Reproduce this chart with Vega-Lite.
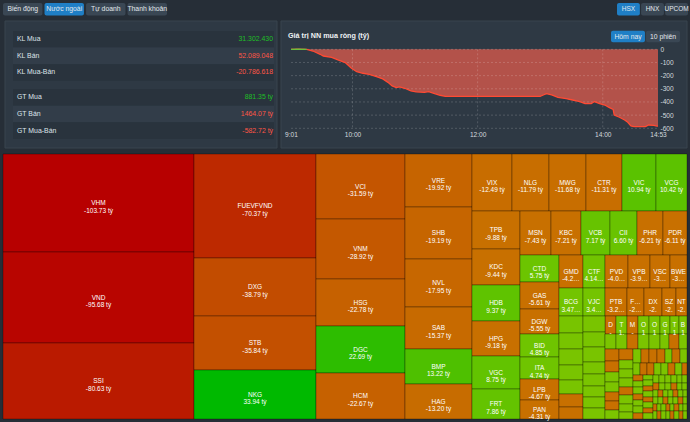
{
  "$schema": "https://vega.github.io/schema/vega-lite/v6.json",
  "width": 690,
  "height": 422,
  "autosize": {"type": "none"},
  "padding": 0,
  "background": "#262e37",
  "config": {"view": {"stroke": null}, "font": "Liberation Sans", "text": {"font": "Liberation Sans"}},
  "resolve": {
    "scale": {"x": "independent", "y": "independent", "color": "independent", "fill": "independent"},
    "axis": {"x": "independent", "y": "independent"},
    "legend": {"color": "independent", "fill": "independent"}
  },
  "datasets": {
    "nn": [
      {"t": "2000-01-01 09:01", "v": 0}, {"t": "2000-01-01 09:08", "v": 2}, {"t": "2000-01-01 09:16", "v": 0},
      {"t": "2000-01-01 09:22", "v": -13}, {"t": "2000-01-01 09:29", "v": -38}, {"t": "2000-01-01 09:32", "v": -51},
      {"t": "2000-01-01 09:40", "v": -61}, {"t": "2000-01-01 09:46", "v": -81}, {"t": "2000-01-01 09:53", "v": -101},
      {"t": "2000-01-01 09:59", "v": -144}, {"t": "2000-01-01 10:04", "v": -170}, {"t": "2000-01-01 10:10", "v": -182},
      {"t": "2000-01-01 10:16", "v": -190}, {"t": "2000-01-01 10:23", "v": -208}, {"t": "2000-01-01 10:29", "v": -225},
      {"t": "2000-01-01 10:34", "v": -251}, {"t": "2000-01-01 10:38", "v": -278}, {"t": "2000-01-01 10:42", "v": -291},
      {"t": "2000-01-01 10:45", "v": -286}, {"t": "2000-01-01 10:50", "v": -296}, {"t": "2000-01-01 10:56", "v": -316},
      {"t": "2000-01-01 11:01", "v": -324}, {"t": "2000-01-01 11:09", "v": -327}, {"t": "2000-01-01 11:13", "v": -322},
      {"t": "2000-01-01 11:18", "v": -334}, {"t": "2000-01-01 11:24", "v": -349}, {"t": "2000-01-01 11:29", "v": -357},
      {"t": "2000-01-01 11:30", "v": -357}, {"t": "2000-01-01 13:00", "v": -357}, {"t": "2000-01-01 13:03", "v": -347},
      {"t": "2000-01-01 13:06", "v": -337}, {"t": "2000-01-01 13:11", "v": -347}, {"t": "2000-01-01 13:17", "v": -365},
      {"t": "2000-01-01 13:25", "v": -375}, {"t": "2000-01-01 13:31", "v": -385}, {"t": "2000-01-01 13:38", "v": -397},
      {"t": "2000-01-01 13:43", "v": -413}, {"t": "2000-01-01 13:49", "v": -413}, {"t": "2000-01-01 13:52", "v": -397},
      {"t": "2000-01-01 13:57", "v": -413}, {"t": "2000-01-01 14:02", "v": -423}, {"t": "2000-01-01 14:06", "v": -441},
      {"t": "2000-01-01 14:10", "v": -456}, {"t": "2000-01-01 14:11", "v": -499}, {"t": "2000-01-01 14:16", "v": -516},
      {"t": "2000-01-01 14:21", "v": -537}, {"t": "2000-01-01 14:24", "v": -554}, {"t": "2000-01-01 14:27", "v": -582},
      {"t": "2000-01-01 14:30", "v": -587}, {"t": "2000-01-01 14:41", "v": -587}, {"t": "2000-01-01 14:44", "v": -575},
      {"t": "2000-01-01 14:49", "v": -577}, {"t": "2000-01-01 14:52", "v": -583}, {"t": "2000-01-01 14:53", "v": -582.72}
    ],
    "grid": [
      {"gv": 0, "t0": "2000-01-01 09:01", "t1": "2000-01-01 14:53"},
      {"gv": -100, "t0": "2000-01-01 09:01", "t1": "2000-01-01 14:53"},
      {"gv": -200, "t0": "2000-01-01 09:01", "t1": "2000-01-01 14:53"},
      {"gv": -300, "t0": "2000-01-01 09:01", "t1": "2000-01-01 14:53"},
      {"gv": -400, "t0": "2000-01-01 09:01", "t1": "2000-01-01 14:53"},
      {"gv": -500, "t0": "2000-01-01 09:01", "t1": "2000-01-01 14:53"},
      {"gv": -600, "t0": "2000-01-01 09:01", "t1": "2000-01-01 14:53"}
    ],
    "vgrid": [
      {"gt": "2000-01-01 10:00", "top": 0, "bottom": -600},
      {"gt": "2000-01-01 12:00", "top": 0, "bottom": -600},
      {"gt": "2000-01-01 14:00", "top": 0, "bottom": -600}
    ],
    "table": [
      {"item": "KL Mua", "val": "31.302.430", "dir": "up", "grp": "KL"},
      {"item": "KL Bán", "val": "52.089.048", "dir": "down", "grp": "KL"},
      {"item": "KL Mua-Bán", "val": "-20.786.618", "dir": "down", "grp": "KL"},
      {"item": "GT Mua", "val": "881.35 tỷ", "dir": "up", "grp": "GT"},
      {"item": "GT Bán", "val": "1464.07 tỷ", "dir": "down", "grp": "GT"},
      {"item": "GT Mua-Bán", "val": "-582.72 tỷ", "dir": "down", "grp": "GT"}
    ],
    "cells": [
      {"name":"VHM","value":-103.73,"lbl":"VHM\n-103.73 tỷ","x0":0,"x1":191,"y0":0,"y1":98},
      {"name":"VND","value":-95.68,"lbl":"VND\n-95.68 tỷ","x0":0,"x1":191,"y0":98,"y1":189},
      {"name":"SSI","value":-80.63,"lbl":"SSI\n-80.63 tỷ","x0":0,"x1":191,"y0":189,"y1":265},
      {"name":"FUEVFVND","value":-70.37,"lbl":"FUEVFVND\n-70.37 tỷ","x0":191,"x1":313,"y0":0,"y1":104},
      {"name":"DXG","value":-38.79,"lbl":"DXG\n-38.79 tỷ","x0":191,"x1":313,"y0":104,"y1":162},
      {"name":"STB","value":-35.84,"lbl":"STB\n-35.84 tỷ","x0":191,"x1":313,"y0":162,"y1":216},
      {"name":"NKG","value":33.94,"lbl":"NKG\n33.94 tỷ","x0":191,"x1":313,"y0":216,"y1":265},
      {"name":"VCI","value":-31.59,"lbl":"VCI\n-31.59 tỷ","x0":313,"x1":402,"y0":0,"y1":65},
      {"name":"VNM","value":-28.92,"lbl":"VNM\n-28.92 tỷ","x0":313,"x1":402,"y0":65,"y1":125},
      {"name":"HSG","value":-22.78,"lbl":"HSG\n-22.78 tỷ","x0":313,"x1":402,"y0":125,"y1":172},
      {"name":"DGC","value":22.69,"lbl":"DGC\n22.69 tỷ","x0":313,"x1":402,"y0":172,"y1":219},
      {"name":"HCM","value":-22.67,"lbl":"HCM\n-22.67 tỷ","x0":313,"x1":402,"y0":219,"y1":265},
      {"name":"VRE","value":-19.92,"lbl":"VRE\n-19.92 tỷ","x0":402,"x1":469,"y0":0,"y1":53},
      {"name":"SHB","value":-19.19,"lbl":"SHB\n-19.19 tỷ","x0":402,"x1":469,"y0":53,"y1":105},
      {"name":"NVL","value":-17.95,"lbl":"NVL\n-17.95 tỷ","x0":402,"x1":469,"y0":105,"y1":153},
      {"name":"SAB","value":-15.37,"lbl":"SAB\n-15.37 tỷ","x0":402,"x1":469,"y0":153,"y1":195},
      {"name":"BMP","value":13.22,"lbl":"BMP\n13.22 tỷ","x0":402,"x1":469,"y0":195,"y1":230},
      {"name":"HAG","value":-13.2,"lbl":"HAG\n-13.20 tỷ","x0":402,"x1":469,"y0":230,"y1":265},
      {"name":"VIX","value":-12.49,"lbl":"VIX\n-12.49 tỷ","x0":469,"x1":509,"y0":0,"y1":57},
      {"name":"NLG","value":-11.79,"lbl":"NLG\n-11.79 tỷ","x0":509,"x1":546,"y0":0,"y1":57},
      {"name":"MWG","value":-11.68,"lbl":"MWG\n-11.68 tỷ","x0":546,"x1":583,"y0":0,"y1":57},
      {"name":"CTR","value":-11.31,"lbl":"CTR\n-11.31 tỷ","x0":583,"x1":619,"y0":0,"y1":57},
      {"name":"VIC","value":10.94,"lbl":"VIC\n10.94 tỷ","x0":619,"x1":653,"y0":0,"y1":57},
      {"name":"VCG","value":10.42,"lbl":"VCG\n10.42 tỷ","x0":653,"x1":684,"y0":0,"y1":57},
      {"name":"TPB","value":-9.88,"lbl":"TPB\n-9.88 tỷ","x0":469,"x1":517,"y0":57,"y1":95},
      {"name":"KDC","value":-9.44,"lbl":"KDC\n-9.44 tỷ","x0":469,"x1":517,"y0":95,"y1":131},
      {"name":"HDB","value":9.37,"lbl":"HDB\n9.37 tỷ","x0":469,"x1":517,"y0":131,"y1":167},
      {"name":"HPG","value":-9.18,"lbl":"HPG\n-9.18 tỷ","x0":469,"x1":517,"y0":167,"y1":202},
      {"name":"VGC","value":8.75,"lbl":"VGC\n8.75 tỷ","x0":469,"x1":517,"y0":202,"y1":235},
      {"name":"FRT","value":7.86,"lbl":"FRT\n7.86 tỷ","x0":469,"x1":517,"y0":235,"y1":265},
      {"name":"MSN","value":-7.43,"lbl":"MSN\n-7.43 tỷ","x0":517,"x1":548,"y0":57,"y1":101},
      {"name":"KBC","value":-7.21,"lbl":"KBC\n-7.21 tỷ","x0":548,"x1":578,"y0":57,"y1":101},
      {"name":"VCB","value":7.17,"lbl":"VCB\n7.17 tỷ","x0":578,"x1":607,"y0":57,"y1":101},
      {"name":"CII","value":6.6,"lbl":"CII\n6.60 tỷ","x0":607,"x1":634,"y0":57,"y1":101},
      {"name":"PHR","value":-6.21,"lbl":"PHR\n-6.21 tỷ","x0":634,"x1":660,"y0":57,"y1":101},
      {"name":"PDR","value":-6.11,"lbl":"PDR\n-6.11 tỷ","x0":660,"x1":684,"y0":57,"y1":101},
      {"name":"CTD","value":5.75,"lbl":"CTD\n5.75 tỷ","x0":517,"x1":556,"y0":101,"y1":128},
      {"name":"GAS","value":-5.61,"lbl":"GAS\n-5.61 tỷ","x0":517,"x1":556,"y0":128,"y1":155},
      {"name":"DGW","value":-5.55,"lbl":"DGW\n-5.55 tỷ","x0":517,"x1":556,"y0":155,"y1":180},
      {"name":"BID","value":4.85,"lbl":"BID\n4.85 tỷ","x0":517,"x1":556,"y0":180,"y1":203},
      {"name":"ITA","value":4.74,"lbl":"ITA\n4.74 tỷ","x0":517,"x1":556,"y0":203,"y1":225},
      {"name":"LPB","value":-4.67,"lbl":"LPB\n-4.67 tỷ","x0":517,"x1":556,"y0":225,"y1":246},
      {"name":"PAN","value":-4.31,"lbl":"PAN\n-4.31 tỷ","x0":517,"x1":556,"y0":246,"y1":265},
      {"name":"GMD","value":-4.25,"lbl":"GMD\n-4.2…","x0":556,"x1":580,"y0":101,"y1":134},
      {"name":"CTF","value":4.14,"lbl":"CTF\n4.14…","x0":580,"x1":602,"y0":101,"y1":134},
      {"name":"PVD","value":-4.05,"lbl":"PVD\n-4.0…","x0":602,"x1":625,"y0":101,"y1":134},
      {"name":"VPB","value":-3.95,"lbl":"VPB\n-3.9…","x0":625,"x1":647,"y0":101,"y1":134},
      {"name":"VSC","value":-3.5,"lbl":"VSC\n-3…","x0":647,"x1":667,"y0":101,"y1":134},
      {"name":"BWE","value":-3.4,"lbl":"BWE\n-3…","x0":667,"x1":684,"y0":101,"y1":134},
      {"name":"BCG","value":3.47,"lbl":"BCG\n3.47…","x0":556,"x1":580,"y0":134,"y1":162},
      {"name":"VJC","value":3.42,"lbl":"VJC\n3.4…","x0":580,"x1":602,"y0":134,"y1":162},
      {"name":"PTB","value":-3.25,"lbl":"PTB\n-3.2…","x0":602,"x1":624,"y0":134,"y1":162},
      {"name":"F","value":-2.8,"lbl":"F…\n-2…","x0":624,"x1":641,"y0":134,"y1":162},
      {"name":"DX","value":-2.7,"lbl":"DX\n-2.","x0":641,"x1":659,"y0":134,"y1":162},
      {"name":"SZ","value":-2.5,"lbl":"SZ\n-2.","x0":659,"x1":673,"y0":134,"y1":162},
      {"name":"NT","value":-2.3,"lbl":"NT\n-2.","x0":673,"x1":684,"y0":134,"y1":162},
      {"name":"D","value":-1.9,"lbl":"D\n-","x0":602,"x1":613,"y0":162,"y1":180},
      {"name":"T","value":1.9,"lbl":"T\n1.","x0":613,"x1":624,"y0":162,"y1":180},
      {"name":"M","value":-1.8,"lbl":"M\n-","x0":624,"x1":635,"y0":162,"y1":180},
      {"name":"O","value":1.8,"lbl":"O\n1","x0":635,"x1":646,"y0":162,"y1":180},
      {"name":"O","value":1.7,"lbl":"O\n1","x0":646,"x1":657,"y0":162,"y1":180},
      {"name":"G","value":1.6,"lbl":"G\n1","x0":657,"x1":667,"y0":162,"y1":180},
      {"name":"T","value":1.5,"lbl":"T\n1","x0":667,"x1":676,"y0":162,"y1":180},
      {"name":"B","value":1.4,"lbl":"B\n1","x0":676,"x1":684,"y0":162,"y1":180},
      {"value":2.2,"x0":556,"x1":580,"y0":162,"y1":179},{"value":2.1,"x0":556,"x1":580,"y0":179,"y1":195},
      {"value":2.0,"x0":556,"x1":580,"y0":195,"y1":211},{"value":1.9,"x0":556,"x1":580,"y0":211,"y1":226},
      {"value":1.8,"x0":556,"x1":580,"y0":226,"y1":240},{"value":-1.7,"x0":556,"x1":580,"y0":240,"y1":253},
      {"value":-1.6,"x0":556,"x1":580,"y0":253,"y1":265},
      {"value":1.9,"x0":580,"x1":602,"y0":162,"y1":178},{"value":1.8,"x0":580,"x1":602,"y0":178,"y1":193},
      {"value":1.8,"x0":580,"x1":602,"y0":193,"y1":208},{"value":1.5,"x0":580,"x1":602,"y0":208,"y1":220},
      {"value":1.5,"x0":580,"x1":602,"y0":220,"y1":232},{"value":1.4,"x0":580,"x1":602,"y0":232,"y1":243},
      {"value":1.4,"x0":580,"x1":602,"y0":243,"y1":254},{"value":1.3,"x0":580,"x1":602,"y0":254,"y1":265},
      {"value":1.3,"x0":602,"x1":613,"y0":180,"y1":195},{"value":1.3,"x0":613,"x1":624,"y0":180,"y1":195},
      {"value":-1.3,"x0":624,"x1":635,"y0":180,"y1":195},{"value":1.3,"x0":635,"x1":646,"y0":180,"y1":195},
      {"value":1.3,"x0":646,"x1":657,"y0":180,"y1":195},{"value":1.2,"x0":657,"x1":666,"y0":180,"y1":195},
      {"value":-1.2,"x0":666,"x1":676,"y0":180,"y1":195},{"value":1.1,"x0":676,"x1":684,"y0":180,"y1":195},
      {"value":-1.1,"x0":602,"x1":616,"y0":195,"y1":207},{"value":-1.1,"x0":602,"x1":616,"y0":207,"y1":218},
      {"value":1.0,"x0":602,"x1":616,"y0":218,"y1":228},{"value":1.0,"x0":602,"x1":616,"y0":228,"y1":238},
      {"value":-1.0,"x0":602,"x1":616,"y0":238,"y1":247},{"value":-1.0,"x0":602,"x1":616,"y0":247,"y1":256},
      {"value":1.0,"x0":602,"x1":616,"y0":256,"y1":265},
      {"value":-1.0,"x0":616,"x1":630,"y0":195,"y1":206},{"value":1.0,"x0":616,"x1":630,"y0":206,"y1":215},
      {"value":1.0,"x0":616,"x1":630,"y0":215,"y1":224},{"value":1.0,"x0":616,"x1":630,"y0":224,"y1":233},
      {"value":-1.0,"x0":616,"x1":630,"y0":233,"y1":241},{"value":1.0,"x0":616,"x1":630,"y0":241,"y1":250},
      {"value":1.0,"x0":616,"x1":630,"y0":250,"y1":258},{"value":1.0,"x0":616,"x1":630,"y0":258,"y1":265},
      {"value":1,"x0":630,"x1":638,"y0":195,"y1":209},{"value":-1,"x0":638,"x1":646,"y0":195,"y1":209},
      {"value":-1,"x0":646,"x1":654,"y0":195,"y1":209},{"value":-1,"x0":654,"x1":662,"y0":195,"y1":209},
      {"value":1,"x0":662,"x1":669,"y0":195,"y1":209},{"value":-1,"x0":669,"x1":677,"y0":195,"y1":209},
      {"value":1,"x0":677,"x1":684,"y0":195,"y1":209},
      {"value":1,"x0":630,"x1":637,"y0":209,"y1":221},{"value":-1,"x0":637,"x1":644,"y0":209,"y1":221},
      {"value":-1,"x0":644,"x1":651,"y0":209,"y1":221},{"value":1,"x0":651,"x1":658,"y0":209,"y1":221},
      {"value":1,"x0":658,"x1":665,"y0":209,"y1":221},{"value":-1,"x0":665,"x1":672,"y0":209,"y1":221},
      {"value":1,"x0":672,"x1":679,"y0":209,"y1":221},{"value":-1,"x0":679,"x1":684,"y0":209,"y1":221},
      {"value":-1,"x0":630,"x1":640,"y0":221,"y1":227},{"value":1,"x0":630,"x1":640,"y0":227,"y1":233},
      {"value":1,"x0":630,"x1":640,"y0":233,"y1":240},{"value":-1,"x0":630,"x1":640,"y0":240,"y1":246},
      {"value":1,"x0":630,"x1":640,"y0":246,"y1":252},{"value":1,"x0":630,"x1":640,"y0":252,"y1":259},
      {"value":-1,"x0":630,"x1":640,"y0":259,"y1":265},
      {"value":1,"x0":640,"x1":650,"y0":221,"y1":226},{"value":1,"x0":640,"x1":650,"y0":226,"y1":232},
      {"value":-1,"x0":640,"x1":650,"y0":232,"y1":237},{"value":1,"x0":640,"x1":650,"y0":237,"y1":243},
      {"value":-1,"x0":640,"x1":650,"y0":243,"y1":248},{"value":1,"x0":640,"x1":650,"y0":248,"y1":254},
      {"value":-1,"x0":640,"x1":650,"y0":254,"y1":259},{"value":1,"x0":640,"x1":650,"y0":259,"y1":265},
      {"value":1,"x0":650,"x1":656,"y0":221,"y1":229},{"value":1,"x0":656,"x1":662,"y0":221,"y1":229},
      {"value":1,"x0":662,"x1":668,"y0":221,"y1":229},{"value":1,"x0":668,"x1":674,"y0":221,"y1":229},
      {"value":1,"x0":674,"x1":679,"y0":221,"y1":229},{"value":1,"x0":679,"x1":684,"y0":221,"y1":229},
      {"value":-1,"x0":650,"x1":656,"y0":229,"y1":236},{"value":1,"x0":656,"x1":662,"y0":229,"y1":236},
      {"value":1,"x0":662,"x1":668,"y0":229,"y1":236},{"value":-1,"x0":668,"x1":674,"y0":229,"y1":236},
      {"value":1,"x0":674,"x1":679,"y0":229,"y1":236},{"value":1,"x0":679,"x1":684,"y0":229,"y1":236},
      {"value":1,"x0":650,"x1":655,"y0":236,"y1":243},{"value":-1,"x0":655,"x1":660,"y0":236,"y1":243},
      {"value":1,"x0":660,"x1":665,"y0":236,"y1":243},{"value":1,"x0":665,"x1":670,"y0":236,"y1":243},
      {"value":-1,"x0":670,"x1":675,"y0":236,"y1":243},{"value":1,"x0":675,"x1":680,"y0":236,"y1":243},
      {"value":1,"x0":680,"x1":684,"y0":236,"y1":243},
      {"value":1,"x0":650,"x1":655,"y0":243,"y1":250},{"value":1,"x0":655,"x1":660,"y0":243,"y1":250},
      {"value":-1,"x0":660,"x1":665,"y0":243,"y1":250},{"value":1,"x0":665,"x1":670,"y0":243,"y1":250},
      {"value":1,"x0":670,"x1":675,"y0":243,"y1":250},{"value":-1,"x0":675,"x1":680,"y0":243,"y1":250},
      {"value":1,"x0":680,"x1":684,"y0":243,"y1":250},
      {"value":-1,"x0":650,"x1":654,"y0":250,"y1":257},{"value":1,"x0":654,"x1":658,"y0":250,"y1":257},
      {"value":1,"x0":658,"x1":663,"y0":250,"y1":257},{"value":-1,"x0":663,"x1":667,"y0":250,"y1":257},
      {"value":1,"x0":667,"x1":671,"y0":250,"y1":257},{"value":-1,"x0":671,"x1":676,"y0":250,"y1":257},
      {"value":1,"x0":676,"x1":680,"y0":250,"y1":257},{"value":1,"x0":680,"x1":684,"y0":250,"y1":257},
      {"value":1,"x0":650,"x1":654,"y0":257,"y1":265},{"value":-1,"x0":654,"x1":658,"y0":257,"y1":265},
      {"value":1,"x0":658,"x1":663,"y0":257,"y1":265},{"value":1,"x0":663,"x1":667,"y0":257,"y1":265},
      {"value":-1,"x0":667,"x1":671,"y0":257,"y1":265},{"value":1,"x0":671,"x1":676,"y0":257,"y1":265},
      {"value":-1,"x0":676,"x1":680,"y0":257,"y1":265},{"value":1,"x0":680,"x1":684,"y0":257,"y1":265}
    ]
  },
  "layer": [
    {
      "data": {"values": [{}]},
      "mark": {"type": "rect", "fill": "#2e3944", "stroke": "#38444f", "strokeWidth": 1},
      "encoding": {
        "x": {"datum": 0, "type": "quantitative", "scale": {"domain": [0, 1], "range": [5, 277], "nice": false}, "axis": null},
        "x2": {"datum": 1},
        "y": {"datum": 0, "type": "quantitative", "scale": {"domain": [0, 1], "range": [21, 148], "nice": false}, "axis": null},
        "y2": {"datum": 1}
      }
    },
    {
      "data": {"values": [{}]},
      "encoding": {
        "x": {"datum": 0, "type": "quantitative", "scale": {"domain": [0, 1], "range": [281, 687], "nice": false}, "axis": null},
        "y": {"datum": 0, "type": "quantitative", "scale": {"domain": [0, 1], "range": [21, 148], "nice": false}, "axis": null}
      },
      "layer": [
        {"mark": {"type": "rect", "fill": "#2e3944", "stroke": "#38444f", "strokeWidth": 1},
          "encoding": {"x2": {"datum": 1}, "y2": {"datum": 1}}},
        {"mark": {"type": "text", "text": "Giá trị NN mua ròng (tỷ)", "align": "left", "baseline": "middle", "fontSize": 7.2, "fontWeight": "bold", "color": "#eef1f4", "dx": 7, "dy": 15}}
      ]
    },
    {
      "data": {"values": [{"b": "Biến động", "sel": false}, {"b": "Nước ngoài", "sel": true}, {"b": "Tự doanh", "sel": false}, {"b": "Thanh khoản", "sel": false}]},
      "encoding": {
        "x": {"field": "b", "type": "nominal", "sort": null, "scale": {"domain": ["Biến động", "Nước ngoài", "Tự doanh", "Thanh khoản"], "range": [3, 167], "paddingInner": 0.05, "paddingOuter": 0}, "axis": null},
        "y": {"datum": "btn", "type": "nominal", "scale": {"range": [3, 15.5], "paddingInner": 0, "paddingOuter": 0}, "axis": null}
      },
      "layer": [
        {"mark": {"type": "bar", "cornerRadius": 2}, "encoding": {"color": {"condition": {"test": "datum.sel", "value": "#1f7fc6"}, "value": "#3a4754"}}},
        {"mark": {"type": "text", "fontSize": 6.8, "color": "#e4e8ec", "baseline": "middle"}, "encoding": {"text": {"field": "b"}}}
      ]
    },
    {
      "data": {"values": [{"b": "HSX", "sel": true}, {"b": "HNX", "sel": false}, {"b": "UPCOM", "sel": false}]},
      "encoding": {
        "x": {"field": "b", "type": "nominal", "sort": null, "scale": {"domain": ["HSX", "HNX", "UPCOM"], "range": [617, 688], "paddingInner": 0.05, "paddingOuter": 0}, "axis": null},
        "y": {"datum": "btn", "type": "nominal", "scale": {"range": [3, 15.5], "paddingInner": 0, "paddingOuter": 0}, "axis": null}
      },
      "layer": [
        {"mark": {"type": "bar", "cornerRadius": 2}, "encoding": {"color": {"condition": {"test": "datum.sel", "value": "#1f7fc6"}, "value": "#3a4754"}}},
        {"mark": {"type": "text", "fontSize": 6.5, "color": "#e4e8ec", "baseline": "middle"}, "encoding": {"text": {"field": "b"}}}
      ]
    },
    {
      "data": {"name": "table"},
      "transform": [{"filter": "datum.grp === 'KL'"}],
      "encoding": {
        "y": {"field": "item", "type": "nominal", "sort": null, "scale": {"domain": ["KL Mua", "KL Bán", "KL Mua-Bán"], "range": [31, 80.7], "paddingInner": 0, "paddingOuter": 0}, "axis": null}
      },
      "layer": [
        {"mark": {"type": "bar"}, "encoding": {
          "x": {"datum": 0, "type": "quantitative", "scale": {"domain": [0, 1], "range": [13, 274], "nice": false}, "axis": null},
          "x2": {"datum": 1},
          "fill": {"field": "item", "type": "nominal", "scale": {"domain": ["KL Mua", "KL Bán", "KL Mua-Bán"], "range": ["#29333d", "#323d49", "#29333d"]}, "legend": null}}},
        {"mark": {"type": "text", "align": "left", "baseline": "middle", "dx": 4, "fontSize": 6.9, "color": "#dfe5ea"}, "encoding": {
          "x": {"datum": 0, "type": "quantitative"}, "text": {"field": "item"}}},
        {"mark": {"type": "text", "align": "right", "baseline": "middle", "dx": -1, "fontSize": 6.9}, "encoding": {
          "x": {"datum": 1, "type": "quantitative"}, "text": {"field": "val"},
          "color": {"field": "dir", "type": "nominal", "scale": {"domain": ["up", "down"], "range": ["#1fbf26", "#ff5646"]}, "legend": null}}}
      ]
    },
    {
      "data": {"name": "table"},
      "transform": [{"filter": "datum.grp === 'GT'"}],
      "encoding": {
        "y": {"field": "item", "type": "nominal", "sort": null, "scale": {"domain": ["GT Mua", "GT Bán", "GT Mua-Bán"], "range": [89, 139], "paddingInner": 0, "paddingOuter": 0}, "axis": null}
      },
      "layer": [
        {"mark": {"type": "bar"}, "encoding": {
          "x": {"datum": 0, "type": "quantitative", "scale": {"domain": [0, 1], "range": [13, 274], "nice": false}, "axis": null},
          "x2": {"datum": 1},
          "fill": {"field": "item", "type": "nominal", "scale": {"domain": ["GT Mua", "GT Bán", "GT Mua-Bán"], "range": ["#29333d", "#323d49", "#29333d"]}, "legend": null}}},
        {"mark": {"type": "text", "align": "left", "baseline": "middle", "dx": 4, "fontSize": 6.9, "color": "#dfe5ea"}, "encoding": {
          "x": {"datum": 0, "type": "quantitative"}, "text": {"field": "item"}}},
        {"mark": {"type": "text", "align": "right", "baseline": "middle", "dx": -1, "fontSize": 6.9}, "encoding": {
          "x": {"datum": 1, "type": "quantitative"}, "text": {"field": "val"},
          "color": {"field": "dir", "type": "nominal", "scale": {"domain": ["up", "down"], "range": ["#1fbf26", "#ff5646"]}, "legend": null}}}
      ]
    },
    {
      "data": {"values": [{"b": "Hôm nay", "sel": true}, {"b": "10 phiên", "sel": false}]},
      "encoding": {
        "x": {"field": "b", "type": "nominal", "sort": null, "scale": {"domain": ["Hôm nay", "10 phiên"], "range": [611, 680], "paddingInner": 0.03, "paddingOuter": 0}, "axis": null},
        "y": {"datum": "btn", "type": "nominal", "scale": {"range": [30.7, 42.3], "paddingInner": 0, "paddingOuter": 0}, "axis": null}
      },
      "layer": [
        {"mark": {"type": "bar", "cornerRadius": 2}, "encoding": {"color": {"condition": {"test": "datum.sel", "value": "#1f7fc6"}, "value": "#3a4754"}}},
        {"mark": {"type": "text", "fontSize": 6.8, "color": "#e4e8ec", "baseline": "middle"}, "encoding": {"text": {"field": "b"}}}
      ]
    },
    {
      "data": {"name": "nn"},
      "encoding": {
        "x": {"field": "t", "type": "temporal",
          "scale": {"domain": [{"year": 2000, "month": 1, "date": 1, "hours": 9, "minutes": 1}, {"year": 2000, "month": 1, "date": 1, "hours": 14, "minutes": 53}], "range": [291, 658], "nice": false},
          "axis": {"orient": "bottom", "offset": -293.7, "title": null, "format": "%-H:%M", "zindex": 2,
            "values": [{"year": 2000, "month": 1, "date": 1, "hours": 9, "minutes": 1}, {"year": 2000, "month": 1, "date": 1, "hours": 10, "minutes": 0}, {"year": 2000, "month": 1, "date": 1, "hours": 12, "minutes": 0}, {"year": 2000, "month": 1, "date": 1, "hours": 14, "minutes": 0}, {"year": 2000, "month": 1, "date": 1, "hours": 14, "minutes": 53}],
            "labelFlush": false, "labelOverlap": false, "ticks": false, "domain": false, "grid": false,
            "labelColor": "#d3d9de", "labelFontSize": 6.6, "labelPadding": 3, "labelFont": "Liberation Sans"}},
        "y": {"field": "v", "type": "quantitative",
          "scale": {"domain": [-600, 0], "range": [128.3, 49.3], "nice": false, "zero": false},
          "axis": {"orient": "right", "offset": -32, "title": null, "values": [0, -100, -200, -300, -400, -500, -600], "zindex": 2,
            "labelExpr": "datum.value + ''", "ticks": false, "domain": false, "grid": false, "labelAlign": "left",
            "labelColor": "#d3d9de", "labelFontSize": 6.6, "labelPadding": 2, "labelFont": "Liberation Sans"}}
      },
      "layer": [
        {"mark": {"type": "area", "color": "#b3524a", "opacity": 1}, "encoding": {"y2": {"datum": 0}}},
        {"data": {"name": "grid"},
          "mark": {"type": "rule", "color": "#ffffff", "opacity": 0.17, "strokeDash": [2, 2], "strokeWidth": 1},
          "encoding": {
            "x": {"field": "t0", "type": "temporal"},
            "x2": {"field": "t1"},
            "y": {"field": "gv", "type": "quantitative"}}},
        {"data": {"name": "vgrid"},
          "mark": {"type": "rule", "color": "#ffffff", "opacity": 0.17, "strokeDash": [2, 2], "strokeWidth": 1},
          "encoding": {
            "x": {"field": "gt", "type": "temporal"},
            "y": {"field": "top", "type": "quantitative"},
            "y2": {"field": "bottom"}}},
        {"mark": {"type": "line", "color": "#ff4a33", "strokeWidth": 1.3}},
        {"transform": [{"filter": "datum.v >= 0"}], "mark": {"type": "line", "color": "#6cbf3c", "strokeWidth": 1.3}}
      ]
    },
    {
      "data": {"name": "cells"},
      "layer": [
        {"mark": {"type": "rect", "stroke": "#000000", "strokeOpacity": 0.3, "strokeWidth": 1},
          "encoding": {
            "x": {"field": "x0", "type": "quantitative", "scale": {"domain": [0, 684], "range": [3, 687], "nice": false, "zero": false}, "axis": null},
            "x2": {"field": "x1"},
            "y": {"field": "y0", "type": "quantitative", "scale": {"domain": [0, 265], "range": [154, 419], "nice": false, "zero": false}, "axis": null},
            "y2": {"field": "y1"},
            "color": {"field": "value", "type": "quantitative", "legend": null,
              "scale": {"interpolate": "rgb",
                "domain": [-104, -95, -80, -70, -38, -30, -22, -15, -10, -1, 1, 5, 8, 11, 13.5, 23, 34],
                "range": ["#b70000", "#b80500", "#ba1b00", "#bd2a00", "#c24d00", "#c45700", "#c66200", "#c76a00", "#c87000", "#c87000", "#7cc400", "#6ec400", "#64c300", "#5ac200", "#4dc000", "#2cbd00", "#00b900"]}}
          }},
        {"transform": [
            {"filter": "isValid(datum.lbl)"},
            {"fold": ["x0", "x1"], "as": ["kx", "xv"]},
            {"fold": ["y0", "y1"], "as": ["ky", "yv"]}
          ],
          "mark": {"type": "text", "fontSize": 6.5, "color": "#ffffff", "lineBreak": "\n", "lineHeight": 7.5, "align": "center", "baseline": "middle"},
          "encoding": {
            "x": {"aggregate": "mean", "field": "xv", "type": "quantitative", "axis": null},
            "y": {"aggregate": "mean", "field": "yv", "type": "quantitative", "axis": null},
            "text": {"field": "lbl", "type": "nominal"},
            "detail": [{"field": "x0", "type": "quantitative"}, {"field": "y0", "type": "quantitative"}]
          }}
      ]
    }
  ]
}
